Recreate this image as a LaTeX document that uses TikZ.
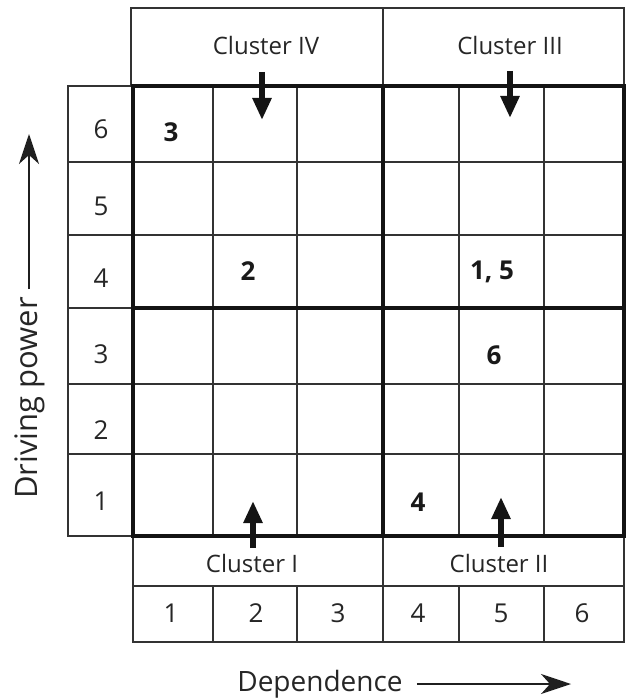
\documentclass[tikz,border=0pt]{standalone}
\usepackage{fontspec}
\setmainfont{Open Sans}
\usetikzlibrary{arrows.meta}
\begin{document}
\begin{tikzpicture}[x=1pt,y=-1pt,
  gridline/.style={line width=1.5pt, draw=black!80},
  boldline/.style={line width=4.8pt, draw=black!92},
  lab/.style={inner sep=0pt, text=black!85, font=\fontsize{24}{28}\selectfont},
  digit/.style={inner sep=0pt, text=black!85, font=\fontsize{26}{30}\selectfont},
  axislab/.style={inner sep=0pt, text=black!85, font=\fontsize{28}{32}\selectfont},
  entry/.style={inner sep=0pt, text=black!90, font=\bfseries\fontsize{26}{30}\selectfont},
  clusterarrow/.style={line width=5.5pt, draw=black!92,
    -{Triangle[length=22pt,width=18pt]}},
  axisarrow/.style={line width=1.8pt, draw=black!88,
    -{Stealth[length=30pt,width=20pt,inset=9pt]}}
]
\useasboundingbox (0,0) rectangle (627,700);

% ---- cluster header (top) ----
\draw[gridline] (131,8) rectangle (624,86);
\draw[gridline] (383,8) -- (383,86);
\node[lab] (c4) at (266,46) {Cluster IV};
\node[lab] (c3) at (510,46) {Cluster III};

% ---- row labels (driving power) ----
\draw[gridline] (68,86) rectangle (133,536);
\foreach \y in {162,235,308,384,454}
  \draw[gridline] (68,\y) -- (133,\y);
\foreach \n/\y in {6/129,5/206,4/278,3/354,2/430,1/501}
  \node[digit] (r\n) at (101,\y) {\n};

% ---- inner grid ----
\foreach \x in {213,297,459,544}
  \draw[gridline] (\x,86) -- (\x,536);
\foreach \y in {162,235,384,454}
  \draw[gridline] (133,\y) -- (624,\y);

% ---- cluster footer and column labels (dependence) ----
\draw[gridline] (133,536) rectangle (624,642);
\draw[gridline] (133,586) -- (624,586);
\draw[gridline] (383,536) -- (383,642);
\foreach \x in {213,297,459,544}
  \draw[gridline] (\x,586) -- (\x,642);
\node[lab] (c1) at (252,563) {Cluster I};
\node[lab] (c2) at (499,563) {Cluster II};
\foreach \n/\x in {1/171,2/256,3/338,4/418,5/501,6/582}
  \node[digit] (k\n) at (\x,613) {\n};

% ---- quadrant borders ----
\draw[boldline] (133,86) rectangle (624,536);
\draw[boldline] (383,86) -- (383,536);
\draw[boldline] (133,308) -- (624,308);

% ---- variables placed in the matrix ----
\node[entry] (v3) at (171,132) {3};
\node[entry] (v2) at (248,271) {2};
\node[entry] (v15) at (492,272) {1, 5};
\node[entry] (v6) at (494,355) {6};
\node[entry] (v4) at (418,502) {4};

% ---- cluster arrows ----
\coordinate (a4s) at (262,72);  \coordinate (a4e) at (262,120);
\coordinate (a3s) at (510,71);  \coordinate (a3e) at (510,118);
\coordinate (a1s) at (253,548); \coordinate (a1e) at (253,501);
\coordinate (a2s) at (501,547); \coordinate (a2e) at (501,497);
\draw[clusterarrow] (a4s) -- (a4e);
\draw[clusterarrow] (a3s) -- (a3e);
\draw[clusterarrow] (a1s) -- (a1e);
\draw[clusterarrow] (a2s) -- (a2e);

% ---- axis titles ----
\node[axislab, font=\fontsize{31}{35}\selectfont, rotate=90] (dp) at (30,398) {Driving power};
\coordinate (dps) at (29,289);
\coordinate (dpe) at (29,134);
\draw[axisarrow] (dps) -- (dpe);
\node[axislab] (dep) at (320,684) {Dependence};
\coordinate (depe) at (571,684);
\draw[axisarrow] ([xshift=14pt]dep.east) -- (depe);
\end{tikzpicture}
\end{document}
